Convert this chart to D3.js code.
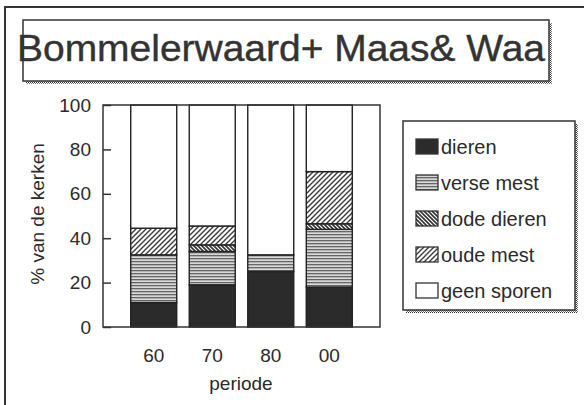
<!DOCTYPE html>
<html>
<head>
<meta charset="utf-8">
<script src="https://d3js.org/d3.v7.min.js"></script>
<style>
body { margin: 0; background: #fff; }
text { font-family: "Liberation Sans", Arial, sans-serif; fill: #2a2a2a; }
</style>
</head>
<body>
<svg id="chart" width="584" height="405"></svg>
<script>
// data (percent of churches)
var periods = ["60", "70", "80", "00"];
var series = ["dieren", "verse mest", "dode dieren", "oude mest", "geen sporen"];
var dieren = [11, 19, 25, 18];
var verseMest = [21.5, 15, 7.5, 26];
var dodeDieren = [0, 3, 0, 2.5];
var oudeMest = [12, 8.5, 0, 23.5];
var geenSporen = [55.5, 54.5, 67.5, 30];
var yTicks = [0, 20, 40, 60, 80, 100];

var rows = periods.map(function (p, i) {
    return {
        periode: p,
        "dieren": dieren[i],
        "verse mest": verseMest[i],
        "dode dieren": dodeDieren[i],
        "oude mest": oudeMest[i],
        "geen sporen": geenSporen[i]
    };
});

var svg = d3.select("#chart");
var defs = svg.append("defs");

// fill patterns
function pat(id, size, draw) {
    var p = defs.append("pattern").attr("id", id)
        .attr("patternUnits", "userSpaceOnUse")
        .attr("width", size).attr("height", size);
    p.append("rect").attr("width", size).attr("height", size).attr("fill", "#fff");
    draw(p, size);
}
pat("horiz", 3, function (p) {
    p.append("rect").attr("width", 3).attr("height", 3).attr("fill", "#d8d8d8");
    p.append("rect").attr("y", 0).attr("width", 3).attr("height", 1.3).attr("fill", "#666");
});
pat("back", 4, function (p, s) {   // \\\ dense
    p.append("path").attr("d", "M-1,-1L5,5M-1,3L1,5M3,-1L5,1")
        .attr("stroke", "#333").attr("stroke-width", 1.6);
});
pat("fwd", 5, function (p, s) {    // ///
    p.append("path").attr("d", "M-1,6L6,-1M-1,1L1,-1M4,6L6,4")
        .attr("stroke", "#3a3a3a").attr("stroke-width", 1.4);
});
pat("shade", 2, function (p) {
    p.append("rect").attr("width", 1).attr("height", 1).attr("fill", "#333");
    p.append("rect").attr("x", 1).attr("y", 1).attr("width", 1).attr("height", 1).attr("fill", "#777");
});

var fills = {
    "dieren": "#2b2b2b",
    "verse mest": "url(#horiz)",
    "dode dieren": "url(#back)",
    "oude mest": "url(#fwd)",
    "geen sporen": "#fff"
};

// outer frame
svg.append("rect").attr("x", 5).attr("y", 7).attr("width", 620).attr("height", 420)
    .attr("fill", "none").attr("stroke", "#333").attr("stroke-width", 2);

// title box
svg.append("rect").attr("x", 26).attr("y", 23).attr("width", 526).attr("height", 61)
    .attr("fill", "url(#shade)");
svg.append("rect").attr("x", 23).attr("y", 20).attr("width", 526).attr("height", 61)
    .attr("fill", "#fff").attr("stroke", "#333").attr("stroke-width", 1.5);
svg.append("text").attr("x", 17).attr("y", 61)
    .attr("font-size", 36)
    .attr("textLength", 528).attr("lengthAdjust", "spacingAndGlyphs")
    .style("fill", "#333").style("stroke", "#333").style("stroke-width", 0.4)
    .text("Bommelerwaard+ Maas& Waa");

// plot
var x = d3.scaleBand().domain(periods).range([103, 380])
    .paddingInner(0.214).paddingOuter(0.474);
var y = d3.scaleLinear().domain([0, 100]).range([327, 105]);

var stack = d3.stack().keys(series)(rows);

svg.append("rect").attr("x", 103).attr("y", 105).attr("width", 277).attr("height", 222)
    .attr("fill", "#fff");

svg.append("g").selectAll("g").data(stack).join("g")
    .attr("fill", function (d) { return fills[d.key]; })
    .selectAll("rect").data(function (d) { return d; }).join("rect")
    .attr("x", function (d) { return x(d.data.periode); })
    .attr("y", function (d) { return y(d[1]); })
    .attr("width", x.bandwidth())
    .attr("height", function (d) { return y(d[0]) - y(d[1]); })
    .attr("stroke", function (d) { return d[1] - d[0] > 0 ? "#222" : "none"; })
    .attr("stroke-width", 1.4);

svg.append("rect").attr("x", 103).attr("y", 105).attr("width", 277).attr("height", 222)
    .attr("fill", "none").attr("stroke", "#333").attr("stroke-width", 1.5);

var yAxis = svg.append("g").attr("transform", "translate(103,0)")
    .call(d3.axisLeft(y).tickValues(yTicks).tickSizeInner(-8).tickSizeOuter(0).tickPadding(12));
yAxis.select(".domain").remove();
yAxis.selectAll("line").attr("stroke", "#333").attr("stroke-width", 1.5);
yAxis.selectAll("text").attr("font-size", 19).attr("font-family", null);

var xAxis = svg.append("g").attr("transform", "translate(0,327)")
    .call(d3.axisBottom(x).tickSize(0).tickPadding(22));
xAxis.select(".domain").remove();
xAxis.selectAll("text").attr("font-size", 19).attr("font-family", null);

svg.append("text").attr("x", 241).attr("y", 390).attr("text-anchor", "middle")
    .attr("font-size", 19).text("periode");
svg.append("text").attr("transform", "translate(44,214) rotate(-90)")
    .attr("text-anchor", "middle").attr("font-size", 19).text("% van de kerken");

// legend
var lg = svg.append("g");
lg.append("rect").attr("x", 406).attr("y", 124).attr("width", 172).attr("height", 189)
    .attr("fill", "url(#shade)");
lg.append("rect").attr("x", 403).attr("y", 121).attr("width", 172).attr("height", 189)
    .attr("fill", "#fff").attr("stroke", "#333").attr("stroke-width", 1.5);
var item = lg.selectAll("g.item").data(series).join("g").attr("class", "item")
    .attr("transform", function (d, i) { return "translate(416," + (147 + i * 36) + ")"; });
item.append("rect").attr("x", 0).attr("y", -8).attr("width", 22).attr("height", 15)
    .attr("fill", function (d) { return fills[d]; })
    .attr("stroke", "#333").attr("stroke-width", 1.3);
item.append("text").attr("x", 25).attr("y", 7).attr("font-size", 20)
    .text(function (d) { return d; });
</script>
</body>
</html>
